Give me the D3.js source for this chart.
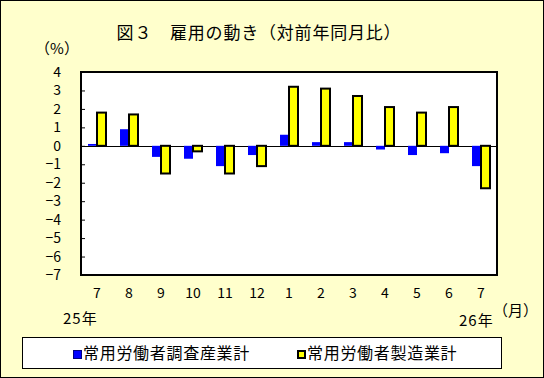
<!DOCTYPE html>
<html>
<head>
<meta charset="utf-8">
<script src="https://cdn.jsdelivr.net/npm/d3@7"></script>
<style>
  body { margin: 0; background: #fff; }
  svg { display: block; font-family: "Noto Sans CJK JP", sans-serif; }
</style>
</head>
<body>
<svg id="chart"></svg>
<script>
// DATA
const months = ["7", "8", "9", "10", "11", "12", "1", "2", "3", "4", "5", "6", "7 "];
const seriesNames = ["常用労働者調査産業計", "常用労働者製造業計"];
const allIndustries = [0.1, 0.9, -0.6, -0.7, -1.1, -0.5, 0.6, 0.2, 0.2, -0.2, -0.5, -0.4, -1.1];
const manufacturing = [1.8, 1.7, -1.5, -0.3, -1.5, -1.1, 3.2, 3.1, 2.7, 2.1, 1.8, 2.1, -2.3];
const yTicks = [4, 3, 2, 1, 0, -1, -2, -3, -4, -5, -6, -7];

const W = 544, H = 378;
const plot = { left: 81, right: 497, top: 72, bottom: 275 };

const svg = d3.select("#chart")
  .attr("width", W)
  .attr("height", H);

// background + outer frame
svg.append("rect")
  .attr("x", 0.5).attr("y", 0.5)
  .attr("width", W - 1).attr("height", H - 1)
  .attr("fill", "#ffffcc")
  .attr("stroke", "#000");

// TITLE
svg.append("text")
  .attr("x", 259)
  .attr("y", 39)
  .attr("text-anchor", "middle")
  .style("font-size", "17px")
  .style("letter-spacing", "0.8px")
  .text("図３　雇用の動き（対前年同月比）");

svg.append("text")
  .attr("x", 57)
  .attr("y", 54)
  .attr("text-anchor", "middle")
  .style("font-size", "15px")
  .text("（%）");

// SCALES
const x = d3.scaleBand()
  .domain(months)
  .range([plot.left, plot.right]);

const xSub = d3.scaleBand()
  .domain([0, 1])
  .range([7, 25]);

const y = d3.scaleLinear()
  .domain([-7, 4])
  .range([plot.bottom, plot.top]);

// plot area
svg.append("rect")
  .attr("x", plot.left).attr("y", plot.top)
  .attr("width", plot.right - plot.left)
  .attr("height", plot.bottom - plot.top)
  .attr("fill", "#fff");

// zero line
svg.append("line")
  .attr("x1", plot.left).attr("x2", plot.right)
  .attr("y1", Math.round(y(0)) + 0.5).attr("y2", Math.round(y(0)) + 0.5)
  .attr("stroke", "#000");

// BARS
const rows = months.map((m, i) => ({ m, a: allIndustries[i], b: manufacturing[i] }));

svg.selectAll("rect.blue")
  .data(rows)
  .enter()
  .append("rect")
  .attr("class", "blue")
  .attr("x", d => x(d.m) + xSub(0))
  .attr("y", d => y(Math.max(0, d.a)))
  .attr("width", xSub.bandwidth())
  .attr("height", d => Math.abs(y(d.a) - y(0)))
  .attr("fill", "#0000ff");

svg.selectAll("rect.yellow")
  .data(rows)
  .enter()
  .append("rect")
  .attr("class", "yellow")
  .attr("x", d => x(d.m) + xSub(1))
  .attr("y", d => y(Math.max(0, d.b)))
  .attr("width", xSub.bandwidth())
  .attr("height", d => Math.abs(y(d.b) - y(0)))
  .attr("fill", "#ffff00")
  .attr("stroke", "#000")
  .attr("stroke-width", 2);

// plot frame
svg.append("rect")
  .attr("x", plot.left).attr("y", plot.top)
  .attr("width", plot.right - plot.left)
  .attr("height", plot.bottom - plot.top)
  .attr("fill", "none")
  .attr("stroke", "#000")
  .attr("stroke-width", 2);

// AXES
const yAxis = d3.axisLeft(y)
  .tickValues(yTicks)
  .tickSize(-4)
  .tickPadding(20);

svg.append("g")
  .attr("transform", `translate(${plot.left}, 0)`)
  .call(yAxis)
  .call(g => g.select(".domain").remove())
  .call(g => g.selectAll("text").style("font-size", "14px").style("font-family", "Noto Sans CJK JP"));

const xAxis = d3.axisBottom(x)
  .tickSize(0)
  .tickPadding(13)
  .tickFormat(d => d.trim());

svg.append("g")
  .attr("transform", `translate(0, ${plot.bottom})`)
  .call(xAxis)
  .call(g => g.select(".domain").remove())
  .call(g => g.selectAll("text").style("font-size", "14px").style("font-family", "Noto Sans CJK JP"));

svg.append("text")
  .attr("x", 63).attr("y", 324)
  .style("font-size", "15px")
  .style("letter-spacing", "1px")
  .text("25年");

svg.append("text")
  .attr("x", 459).attr("y", 326)
  .style("font-size", "15px")
  .style("letter-spacing", "1px")
  .text("26年");

svg.append("text")
  .attr("x", 493).attr("y", 316)
  .style("font-size", "15px")
  .text("（月）");

// LEGEND
svg.append("rect")
  .attr("x", 22.5).attr("y", 337.5)
  .attr("width", 479).attr("height", 31)
  .attr("fill", "#fff")
  .attr("stroke", "#000");

const legendX = [73, 297];
const legend = svg.selectAll("g.legend")
  .data(seriesNames)
  .enter()
  .append("g")
  .attr("class", "legend")
  .attr("transform", (d, i) => `translate(${legendX[i]}, 350)`);

legend.append("rect")
  .attr("x", (d, i) => i ? 1 : 0.5).attr("y", (d, i) => i ? 1 : 0.5)
  .attr("width", (d, i) => i ? 7 : 8).attr("height", (d, i) => i ? 7 : 8)
  .attr("fill", (d, i) => i ? "#ffff00" : "#0000ff")
  .attr("stroke", (d, i) => i ? "#000" : "#000080")
  .attr("stroke-width", (d, i) => i ? 2 : 1);

legend.append("text")
  .attr("x", 10)
  .attr("y", 9)
  .style("font-size", "16px")
  .style("letter-spacing", "0.7px")
  .text(d => d);
</script>
</body>
</html>
